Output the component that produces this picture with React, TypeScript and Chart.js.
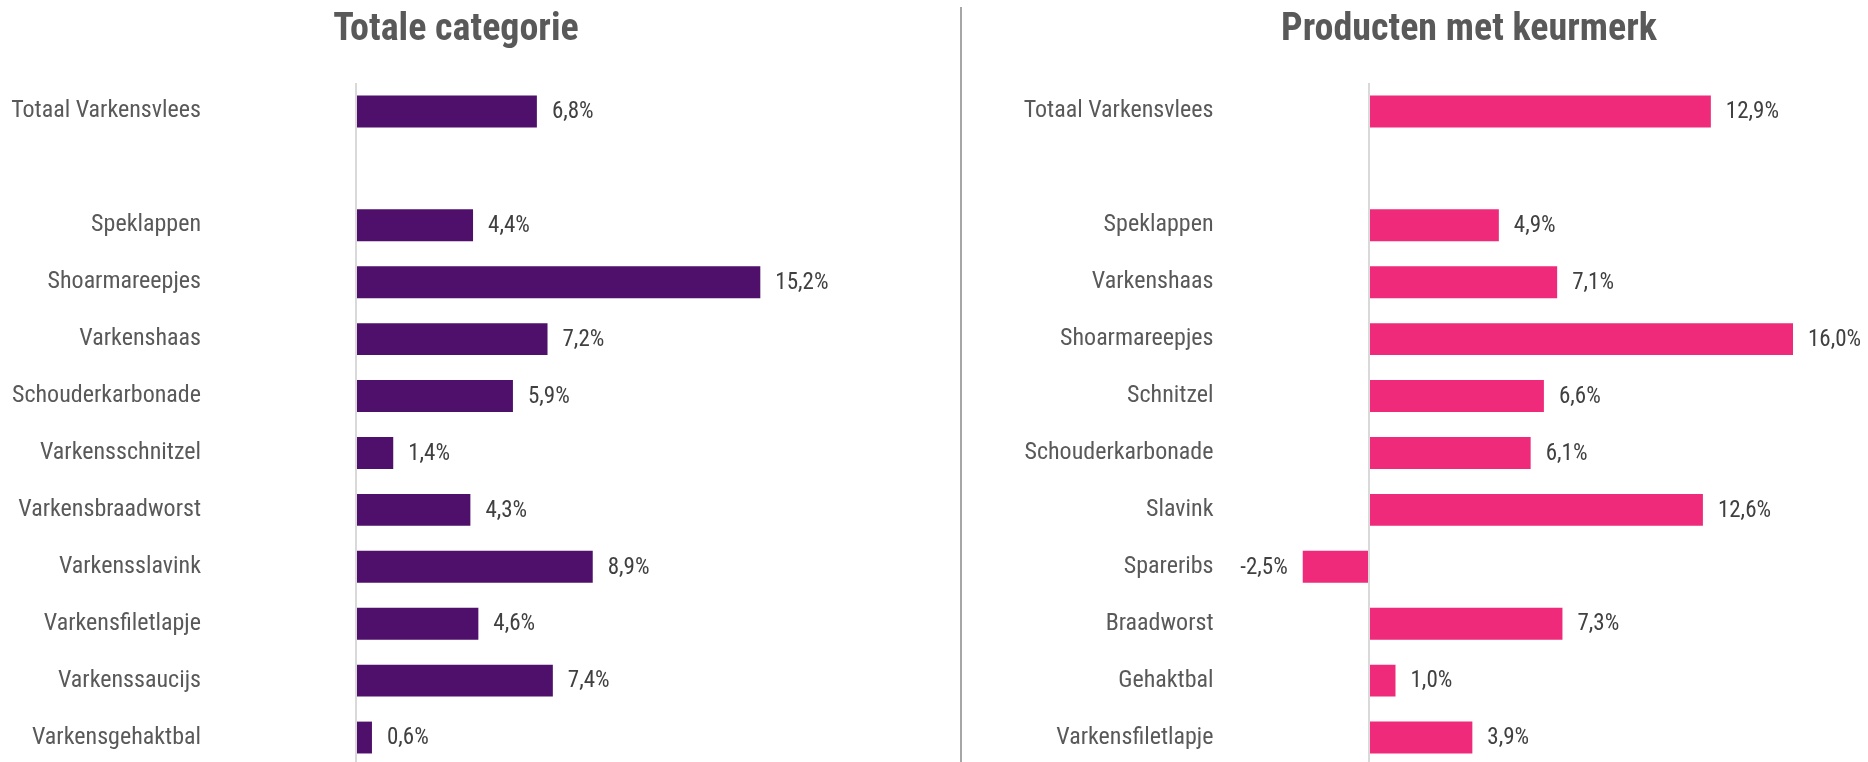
import React, { useEffect, useRef } from "react";
import { Chart, registerables } from "chart.js";

Chart.register(...registerables);

const FONT = "'Roboto Condensed', 'Liberation Sans Narrow', 'Arial Narrow', Roboto, sans-serif";

const leftTitle = "Totale categorie";
const leftCategories = [
  "Totaal Varkensvlees",
  "",
  "Speklappen",
  "Shoarmareepjes",
  "Varkenshaas",
  "Schouderkarbonade",
  "Varkensschnitzel",
  "Varkensbraadworst",
  "Varkensslavink",
  "Varkensfiletlapje",
  "Varkenssaucijs",
  "Varkensgehaktbal",
];
const leftValues: (number | null)[] = [6.8, null, 4.4, 15.2, 7.2, 5.9, 1.4, 4.3, 8.9, 4.6, 7.4, 0.6];

const rightTitle = "Producten met keurmerk";
const rightCategories = [
  "Totaal Varkensvlees",
  "",
  "Speklappen",
  "Varkenshaas",
  "Shoarmareepjes",
  "Schnitzel",
  "Schouderkarbonade",
  "Slavink",
  "Spareribs",
  "Braadworst",
  "Gehaktbal",
  "Varkensfiletlapje",
];
const rightValues: (number | null)[] = [12.9, null, 4.9, 7.1, 16.0, 6.6, 6.1, 12.6, -2.5, 7.3, 1.0, 3.9];

type PanelProps = {
  title: string;
  categories: string[];
  values: (number | null)[];
  color: string;
  min: number;
  max: number;
  yWidth: number;
  labelPad: number;
  padRight: number;
  width: number;
  height: number;
  left: number;
};

function Panel(p: PanelProps) {
  const ref = useRef<HTMLCanvasElement | null>(null);
  useEffect(() => {
    if (!ref.current) return;
    const titlePlugin = {
      id: "panelTitle",
      afterDraw(chart: any) {
        const ctx = chart.ctx;
        const x0 = chart.scales.x.getPixelForValue(0);
        ctx.save();
        ctx.font = `bold 38px ${FONT}`;
        ctx.fillStyle = "#595959";
        ctx.textAlign = "center";
        ctx.textBaseline = "alphabetic";
        ctx.fillText(p.title, x0 + 100, 40);
        ctx.restore();
      },
    };
    const valuePlugin = {
      id: "valueLabels",
      afterDatasetsDraw(chart: any) {
        const ctx = chart.ctx;
        const meta = chart.getDatasetMeta(0);
        const data = chart.data.datasets[0].data as (number | null)[];
        ctx.save();
        ctx.font = `23px ${FONT}`;
        ctx.fillStyle = "#404040";
        ctx.textBaseline = "middle";
        meta.data.forEach((bar: any, i: number) => {
          const v = data[i];
          if (v === null || v === undefined) return;
          const txt = v.toFixed(1).replace(".", ",") + "%";
          const { x, y } = bar.getProps(["x", "y"], true);
          if (v >= 0) {
            ctx.textAlign = "left";
            ctx.fillText(txt, x + 15, y + 1);
          } else {
            ctx.textAlign = "right";
            ctx.fillText(txt, x - 15, y + 1);
          }
        });
        ctx.restore();
      },
    };
    const chart = new Chart(ref.current, {
      type: "bar",
      data: {
        labels: p.categories,
        datasets: [
          {
            data: p.values as any,
            backgroundColor: p.color,
            borderWidth: 0,
            categoryPercentage: 1,
            barPercentage: 0.56,
          },
        ],
      },
      options: {
        indexAxis: "y",
        responsive: false,
        animation: false,
        layout: { padding: { top: 83, right: p.padRight, left: 0, bottom: 0 } },
        plugins: {
          legend: { display: false },
          tooltip: { enabled: false },
          title: { display: false },
        },
        scales: {
          x: {
            min: p.min,
            max: p.max,
            ticks: { display: false, stepSize: 1 },
            border: { display: false },
            grid: {
              drawTicks: false,
              lineWidth: 2,
              color: (c: any) => (c.tick && c.tick.value === 0 ? "#d9d9d9" : "rgba(0,0,0,0)"),
            },
          },
          y: {
            border: { display: false },
            grid: { display: false, drawTicks: false },
            ticks: {
              padding: p.labelPad,
              color: "#595959",
              font: { family: FONT, size: 24 },
              autoSkip: false,
            },
            afterFit: (scale: any) => {
              scale.width = p.yWidth;
              scale.paddingTop = 0;
              scale.paddingBottom = 0;
            },
          },
        },
      },
      plugins: [titlePlugin, valuePlugin],
    });
    return () => chart.destroy();
  }, []);
  return (
    <canvas
      ref={ref}
      width={p.width}
      height={p.height}
      style={{ position: "absolute", left: p.left, top: 0, width: p.width, height: p.height }}
    />
  );
}

export default function App() {
  return (
    <div
      style={{
        position: "fixed",
        left: 0,
        top: 0,
        width: 1868,
        height: 762,
        background: "#ffffff",
        overflow: "hidden",
      }}
    >
      <Panel
        title={leftTitle}
        categories={leftCategories}
        values={leftValues}
        color="#4E106A"
        min={0}
        max={20}
        yWidth={356}
        labelPad={155}
        padRight={12}
        width={900}
        height={766}
        left={0}
      />
      <div
        style={{ position: "absolute", left: 960, top: 7, width: 2, height: 760, background: "#a6a6a6" }}
      />
      <Panel
        title={rightTitle}
        categories={rightCategories}
        values={rightValues}
        color="#EF2A7A"
        min={-3}
        max={18}
        yWidth={323.5}
        labelPad={76}
        padRight={22}
        width={902}
        height={766}
        left={966}
      />
    </div>
  );
}
